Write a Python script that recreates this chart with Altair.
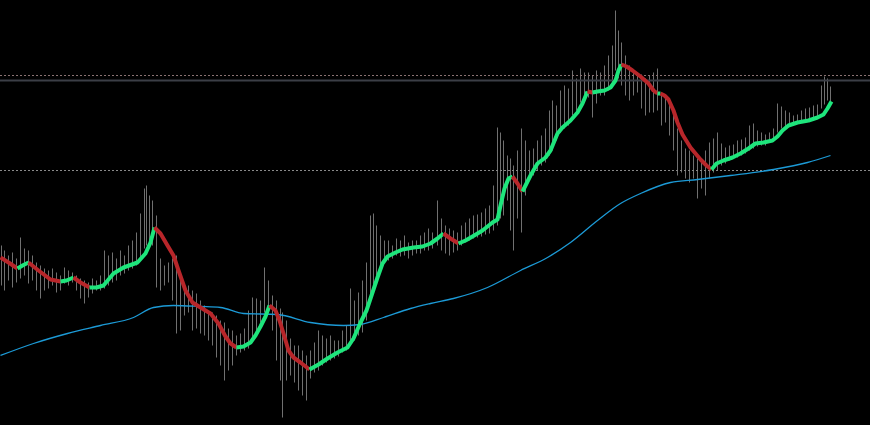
import altair as alt
import pandas as pd
import jinja2

# ---------------- data (screen-space price levels, y grows downward) ----------------
trend_x = [0, 8, 17, 22, 28, 38, 50, 60, 66, 73, 80, 89, 96, 103, 108, 113, 123, 137, 145, 150,
           154, 160, 167, 173, 178, 185, 192, 200, 210, 218, 225, 230, 236, 243, 250, 255, 260, 265, 269, 275,
           279, 283, 288, 293, 300, 309, 318, 327, 337, 347, 353, 360, 366, 372, 377, 382, 387, 395, 402, 413,
           422, 430, 437, 443, 450, 458, 465, 472, 482, 492, 497, 500, 504, 508, 512, 517, 522, 526, 530, 537,
           545, 550, 557, 562, 570, 577, 582, 587, 592, 597, 604, 610, 615, 618, 621, 626, 632, 640, 648, 653,
           657, 660, 664, 668, 673, 677, 682, 690, 700, 706, 711, 716, 723, 732, 740, 748, 755, 763, 772, 777,
           782, 788, 797, 808, 817, 823, 827, 831]
trend_y = [257, 262, 268, 265, 262, 270, 279, 281, 280, 277, 282, 287, 287, 285, 279, 273, 267, 262, 253, 242,
           227, 233, 245, 255, 270, 290, 302, 307, 313, 323, 336, 343, 347, 346, 342, 335, 326, 316, 305, 310,
           320, 333, 350, 357, 362, 369, 364, 358, 352, 347, 338, 322, 310, 292, 277, 263, 256, 252, 249, 247,
           246, 243, 238, 233, 238, 243, 240, 236, 230, 222, 219, 205, 188, 178, 176, 183, 191, 183, 175, 163,
           157, 150, 133, 127, 120, 112, 103, 91, 92, 91, 90, 87, 80, 70, 64, 66, 70, 76, 83, 90,
           93, 93, 95, 99, 110, 122, 134, 147, 159, 165, 169, 163, 160, 157, 153, 148, 143, 142, 140, 136,
           130, 125, 122, 120, 117, 114, 108, 101]
# direction of the segment that ends at each point (first entry unused)
trend_dir = ["dn", "dn", "dn", "up", "up", "dn", "dn", "dn", "up", "up", "dn", "dn", "up", "up", "up", "up", "up", "up", "up", "up",
             "up", "dn", "dn", "dn", "dn", "dn", "dn", "dn", "dn", "dn", "dn", "dn", "dn", "up", "up", "up", "up", "up", "up", "dn",
             "dn", "dn", "dn", "dn", "dn", "dn", "up", "up", "up", "up", "up", "up", "up", "up", "up", "up", "up", "up", "up", "up",
             "up", "up", "up", "up", "dn", "dn", "up", "up", "up", "up", "up", "up", "up", "up", "up", "dn", "dn", "up", "up", "up",
             "up", "up", "up", "up", "up", "up", "up", "up", "dn", "up", "up", "up", "up", "up", "up", "dn", "dn", "dn", "dn", "dn",
             "dn", "up", "dn", "dn", "dn", "dn", "dn", "dn", "dn", "dn", "dn", "up", "up", "up", "up", "up", "up", "up", "up", "up",
             "up", "up", "up", "up", "up", "up", "up", "up"]

ma_x = [0, 33, 67, 100, 133, 153, 173, 200, 220, 243, 277, 310, 343, 360, 383, 410, 430, 453, 487, 520,
        547, 570, 597, 620, 640, 670, 697, 730, 773, 807, 830]
ma_y = [355, 343, 333, 325, 317, 307, 305, 306, 307, 313, 314, 322, 325, 324, 317, 308, 303, 298, 287, 270,
        257, 242, 220, 203, 193, 182, 179, 175, 169, 162, 155]

bar_x = [1, 4, 8, 12, 16, 20, 24, 28, 32, 36, 40, 44, 48, 52, 56, 60, 64, 68, 72, 76,
         80, 84, 88, 92, 96, 100, 104, 108, 112, 116, 120, 124, 128, 132, 136, 140, 144, 146, 149, 152,
         156, 160, 164, 168, 172, 176, 180, 184, 188, 192, 196, 200, 204, 208, 212, 216, 220, 224, 228, 232,
         236, 240, 244, 248, 252, 256, 260, 264, 268, 272, 276, 280, 282, 286, 290, 294, 298, 302, 306, 310,
         314, 318, 322, 326, 330, 334, 338, 342, 346, 350, 354, 358, 362, 366, 370, 373, 376, 380, 384, 388,
         392, 396, 400, 404, 408, 412, 416, 420, 424, 428, 432, 437, 441, 445, 449, 453, 457, 461, 465, 469,
         473, 477, 481, 485, 489, 493, 497, 500, 503, 507, 510, 513, 517, 521, 525, 529, 533, 537, 541, 545,
         549, 552, 556, 560, 564, 568, 572, 576, 580, 584, 588, 592, 596, 600, 604, 608, 612, 615, 618, 621,
         625, 629, 633, 637, 641, 645, 649, 653, 657, 661, 665, 669, 673, 677, 681, 685, 689, 693, 697, 701,
         705, 709, 713, 717, 721, 725, 729, 733, 737, 741, 745, 749, 753, 757, 761, 765, 769, 773, 777, 781,
         785, 789, 793, 797, 801, 805, 809, 813, 817, 821, 824, 827, 830]
bar_high = [245, 250, 255, 252, 258, 237, 248, 250, 255, 262, 265, 268, 270, 268, 272, 275, 267, 270, 272, 275,
            278, 280, 282, 278, 280, 275, 250, 255, 252, 258, 250, 255, 245, 240, 232, 213, 188, 185, 195, 200,
            215, 258, 265, 262, 258, 255, 278, 290, 285, 290, 293, 300, 305, 310, 312, 315, 320, 322, 328, 330,
            335, 333, 328, 310, 297, 298, 300, 267, 280, 295, 300, 308, 312, 320, 338, 345, 345, 350, 355, 350,
            342, 330, 335, 338, 335, 340, 340, 330, 325, 288, 300, 292, 280, 262, 215, 213, 225, 235, 240, 240,
            245, 238, 240, 235, 242, 240, 240, 235, 232, 228, 232, 200, 218, 225, 228, 230, 232, 225, 222, 218,
            215, 214, 212, 208, 205, 185, 127, 132, 140, 155, 158, 165, 150, 128, 140, 150, 148, 140, 135, 128,
            110, 100, 105, 90, 85, 88, 70, 78, 68, 72, 72, 75, 70, 72, 65, 55, 45, 10, 30, 42,
            55, 65, 70, 75, 74, 78, 75, 72, 68, 92, 98, 100, 108, 128, 140, 148, 150, 155, 158, 162,
            150, 142, 138, 132, 143, 147, 145, 144, 140, 139, 137, 125, 123, 130, 132, 134, 132, 128, 103, 106,
            110, 112, 115, 114, 110, 108, 107, 105, 104, 85, 76, 78, 86]
bar_low = [285, 290, 280, 287, 282, 278, 275, 283, 280, 290, 298, 290, 288, 285, 292, 290, 283, 285, 282, 290,
           298, 303, 297, 293, 290, 290, 288, 285, 282, 280, 275, 273, 270, 268, 265, 258, 248, 245, 240, 245,
           287, 290, 285, 282, 300, 333, 330, 315, 312, 330, 328, 333, 335, 340, 345, 357, 365, 380, 370, 365,
           355, 352, 350, 348, 340, 330, 322, 312, 310, 330, 360, 380, 417, 380, 375, 382, 390, 395, 400, 378,
           372, 370, 365, 362, 360, 358, 356, 352, 350, 345, 340, 335, 332, 320, 300, 290, 275, 265, 262, 260,
           258, 255, 256, 255, 258, 255, 253, 253, 250, 250, 248, 245, 250, 253, 255, 252, 250, 245, 242, 240,
           238, 237, 236, 234, 233, 230, 225, 218, 215, 200, 230, 250, 218, 232, 195, 180, 175, 170, 165, 162,
           155, 150, 140, 132, 128, 125, 115, 110, 102, 100, 97, 117, 103, 95, 95, 90, 82, 70, 78, 85,
           95, 100, 95, 92, 108, 115, 112, 112, 110, 125, 122, 135, 150, 175, 172, 178, 182, 178, 198, 188,
           195, 178, 172, 170, 165, 163, 160, 158, 157, 155, 153, 150, 148, 146, 145, 145, 142, 140, 132, 128,
           126, 125, 124, 122, 122, 121, 119, 118, 116, 108, 104, 100, 102]

levels = [75, 80, 170]
level_kind = ["dotted_top", "solid", "dotted_low"]

# ---------------- tables ----------------
bars = pd.DataFrame({"t": bar_x, "high": bar_high, "low": bar_low})
ma = pd.DataFrame({"t": ma_x, "p": ma_y})

rows = []
seg = 0
for i in range(1, len(trend_x)):
    if i > 1 and trend_dir[i] != trend_dir[i - 1]:
        seg += 1
    rows.append({"t": trend_x[i - 1], "p": trend_y[i - 1], "seg": seg, "dir": trend_dir[i], "o": 2 * i})
    rows.append({"t": trend_x[i], "p": trend_y[i], "seg": seg, "dir": trend_dir[i], "o": 2 * i + 1})
trend = pd.DataFrame(rows)
lv = pd.DataFrame({"p": levels, "kind": level_kind})

W, H = 870, 425
# half-pixel shift so 1px rules land on whole pixels
xs = alt.Scale(domain=[-0.5, W - 0.5], nice=False, zero=False)
ys = alt.Scale(domain=[-0.5, H - 0.5], nice=False, zero=False, reverse=True)
X = alt.X("t:Q", scale=xs, axis=None)

bar_layer = alt.Chart(bars).mark_rule(color="#707070", strokeWidth=1, clip=True).encode(
    x=X, y=alt.Y("high:Q", scale=ys, axis=None), y2="low:Q")

dt = lv[lv.kind == "dotted_top"]
dl = lv[lv.kind == "dotted_low"]
sl = lv[lv.kind == "solid"]
lvl_top = alt.Chart(dt).mark_rule(color="#8a7272", strokeWidth=1, strokeDash=[2, 2]).encode(
    y=alt.Y("p:Q", scale=ys, axis=None))
lvl_solid = alt.Chart(sl).mark_rule(color="#3b3e46", strokeWidth=2).encode(
    y=alt.Y("p:Q", scale=ys, axis=None))
lvl_low = alt.Chart(dl).mark_rule(color="#8a8a8a", strokeWidth=1, strokeDash=[2, 2]).encode(
    y=alt.Y("p:Q", scale=ys, axis=None))

ma_layer = alt.Chart(ma).mark_line(color="#1c9ad6", strokeWidth=1.3, interpolate="monotone", clip=True).encode(
    x=X, y=alt.Y("p:Q", scale=ys, axis=None))

trend_layer = alt.Chart(trend).mark_line(strokeWidth=4, strokeCap="butt", strokeJoin="round", clip=True).encode(
    x=X, y=alt.Y("p:Q", scale=ys, axis=None),
    detail="seg:N", order="o:Q",
    color=alt.Color("dir:N", scale=alt.Scale(domain=["up", "dn"], range=["#1ee57c", "#b8262a"]), legend=None))

chart = alt.layer(bar_layer, lvl_top, lvl_solid, lvl_low, ma_layer, trend_layer).properties(
    width=W, height=H, padding=0, background="#000000",
    autosize=alt.AutoSizeParams(type="none")
).configure_view(stroke=None, fill="#000000")

# page without white margin
try:
    import altair.utils.html as _h
    _tpl = jinja2.Template("""<!DOCTYPE html>
<html>
<head>
<meta charset="utf-8">
<style>html,body{margin:0;padding:0;background:#000;overflow:hidden;}#{{ output_div }}{line-height:0;}</style>
<script type="text/javascript" src="{{ base_url }}/vega@{{ vega_version }}"></script>
<script type="text/javascript" src="{{ base_url }}/vega-lite@{{ vegalite_version }}"></script>
<script type="text/javascript" src="{{ base_url }}/vega-embed@{{ vegaembed_version }}"></script>
</head>
<body>
<div id="{{ output_div }}"></div>
<script type="text/javascript">
vegaEmbed("#{{ output_div }}", {{ spec }}, {{ embed_options }}).catch(console.error);
</script>
</body>
</html>
""")
    _h.TEMPLATES["standard"] = _tpl
except Exception:
    pass

chart.save("out.html", embed_options={"renderer": "svg", "actions": False})
